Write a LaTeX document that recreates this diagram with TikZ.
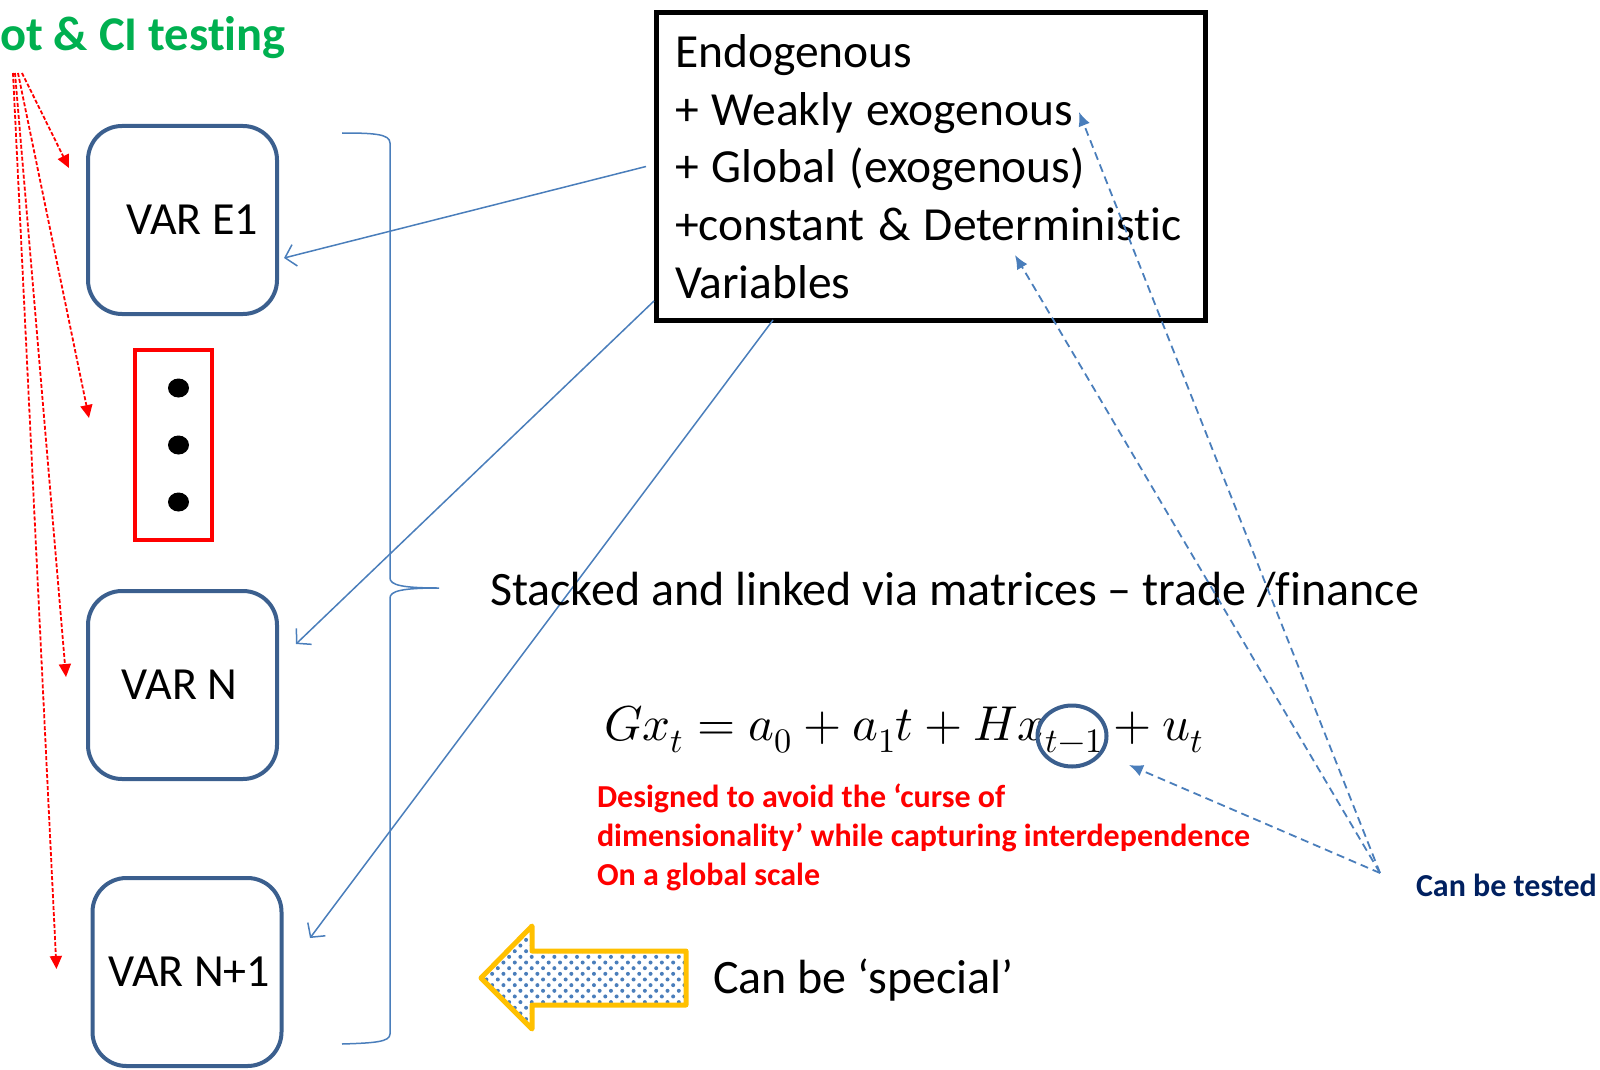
\documentclass[tikz,border=0pt]{standalone}
\usepackage{fontspec}
\setmainfont{Carlito}[Ligatures=NoCommon,RawFeature={-liga;-clig;-calt;-dlig}]
\usepackage{unicode-math}
\usetikzlibrary{arrows.meta,shapes.geometric,patterns.meta,positioning}

\definecolor{ciGreen}{HTML}{00B050}
\definecolor{boxBlue}{HTML}{3B5F8E}
\definecolor{linkBlue}{HTML}{4A7EBB}
\definecolor{testNavy}{HTML}{002060}
\definecolor{arrowYellow}{HTML}{FFC000}

\begin{document}
\begin{tikzpicture}[x=1pt,y=-1pt]
			
			\tikzstyle{every node}=[inner sep=0pt, outer sep=0pt]
			\tikzstyle{varbox}=[draw=boxBlue, line width=4pt, rounded corners=34pt, minimum width=189pt, minimum height=188pt, font=\fontsize{46}{55}\selectfont]
			\tikzstyle{ci arrow}=[draw=red, line width=1.8pt, dash pattern=on 4pt off 2pt, -{Triangle[length=13pt,width=12pt]}]
			\tikzstyle{link}=[draw=linkBlue, line width=1.5pt, -{Straight Barb[length=10pt,width=22pt]}]
			\tikzstyle{test arrow}=[draw=linkBlue, line width=1.8pt, dash pattern=on 8pt off 5pt, -{Latex[length=14pt,width=12pt]}]
			
			\useasboundingbox (0,0) rectangle (1600,1070);
			
			\node[anchor=base west, text=ciGreen, font=\fontsize{48.5}{58}\selectfont\bfseries] (ci) at (0,51) {ot \& CI testing};
			\coordinate (boot) at (18,73);
			
			% the country models
			\node[varbox] (e1) at (182.5,220) {\hspace*{19pt}VAR E1};
			\node[draw=red, line width=4pt, minimum width=77pt, minimum height=190pt] (dots) at (173.5,445) {};
			\foreach \dy in {-57,0,57}
				\fill ([xshift=5pt,yshift=\dy pt]dots.center) ellipse (10.5pt and 9.5pt);
			\node[varbox] (varn) at (182.5,685) {VAR N\hspace*{6pt}};
			\node[varbox] (varn1) at (187,972) {\hspace*{4pt}VAR N+1};
			
			\draw[ci arrow] ([xshift=4pt]boot) -- ([xshift=-19pt,yshift=52pt]e1.west);
			\draw[ci arrow] ([xshift=0pt]boot) -- ([xshift=-46pt,yshift=27pt]dots.west);
			\draw[ci arrow] ([xshift=-3pt]boot) -- ([xshift=-22pt,yshift=8pt]varn.west);
			\draw[ci arrow] ([xshift=-5pt]boot) -- ([xshift=-36pt,yshift=3pt]varn1.west);
			
			% brace
			\draw[draw=linkBlue, line width=1.5pt] (342,133) .. controls (374,133) and (390,134) .. (390,143) -- (390,578) .. controls (390,585) and (402,588) .. (439,588) .. controls (402,588) and (390,591) .. (390,598) -- (390,1034) .. controls (390,1042) and (374,1043) .. (342,1044);
			
			\node[draw, line width=5pt, minimum width=549pt, minimum height=307pt, text width=511pt, align=left, font=\fontsize{47.5}{57.7}\selectfont] (endo) at (930.5,166.5) {\spaceskip=0.28em Endogenous\\+ Weakly exogenous\\+ Global (exogenous)\\\mbox{+constant \& Deterministic}\\Variables};
			
			\draw[link] ([xshift=-10pt]endo.west) -- ([xshift=7pt,yshift=-38pt]e1.east);
			\draw[link] ([xshift=-2pt,yshift=19pt]endo.south west) -- ([xshift=19pt,yshift=41pt]varn.east);
			\draw[link] ([xshift=117pt]endo.south west) -- ([xshift=28.5pt,yshift=34pt]varn1.east);
			
			\node[anchor=base west, font=\fontsize{48}{57}\selectfont] (stacked) at (490,605) {Stacked and linked via matrices – trade /finance};
			
			\node[anchor=base west, font=\fontsize{49}{56}\selectfont] (eq) at (604,740) {$Gx_t = a_0 + a_1 t + Hx_{t-1} + u_t$};
			\node[draw=boxBlue, line width=4pt, ellipse, minimum width=69pt, minimum height=61pt] (lag) at (1072,736) {};
			
			\node[anchor=north west, align=left, text=red, font=\fontsize{32}{39}\selectfont\bfseries] (curse) at (597,784) {Designed to avoid the ‘curse of\\dimensionality’ while capturing interdependence\\On a global scale};
			
			\node[anchor=base west, text=testNavy, font=\fontsize{32}{39}\selectfont\bfseries] (tested) at (1416,896) {Can be tested};
			\coordinate (tsrc) at ([xshift=-36pt,yshift=23pt]tested.base west);
			\coordinate (weakTip) at (1079,112);
			\coordinate (detTip) at (1015,255);
			\coordinate (lagTip) at (1129,765);
			\draw[test arrow] (tsrc) -- (weakTip);
			\draw[test arrow] (tsrc) -- (detTip);
			\draw[test arrow] (tsrc) -- (lagTip);
			
			% special arrow
			\draw[draw=arrowYellow, line width=5pt, line join=round, pattern={Dots[distance=8pt,angle=45,radius=2pt]}, pattern color=linkBlue] (481,978) -- (532,926) -- (532,951) -- (686,951) -- (686,1005) -- (532,1005) -- (532,1029) -- cycle;
			\node[anchor=base west, font=\fontsize{48}{57}\selectfont] (special) at (713,993) {Can be ‘special’};
			
\end{tikzpicture}
\end{document}
